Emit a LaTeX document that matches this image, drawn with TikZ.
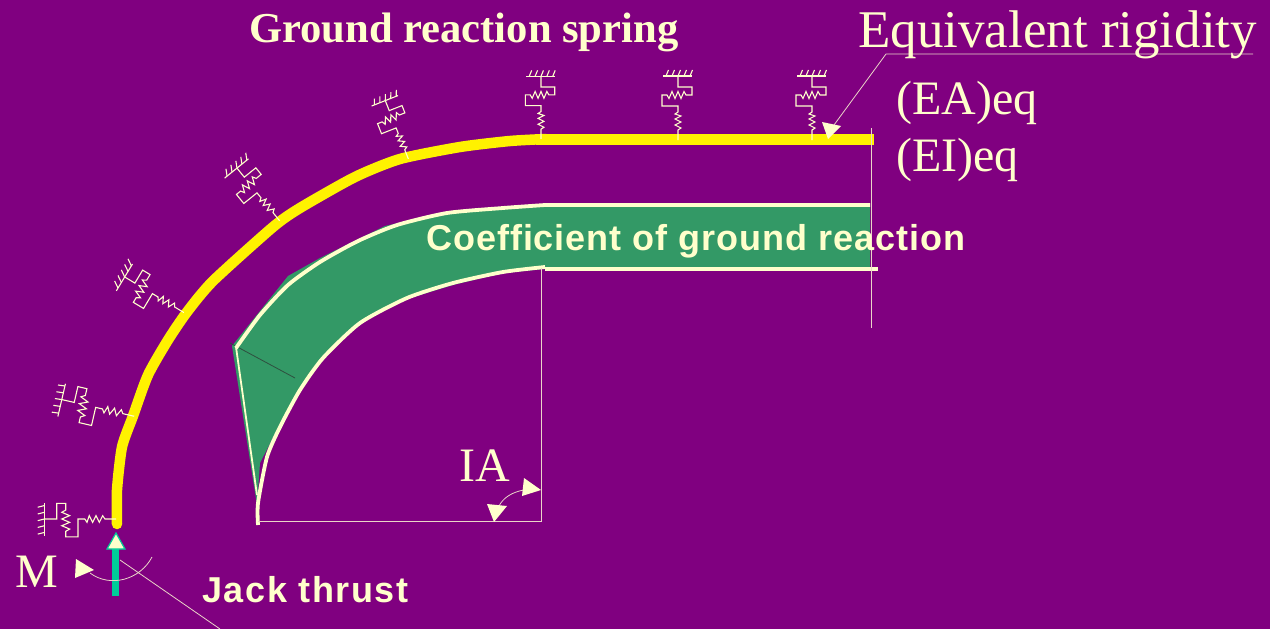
\documentclass[tikz,border=0pt]{standalone}
\usepackage{fontspec}
\setmainfont{Liberation Serif}
\setsansfont{Liberation Sans}
\definecolor{bgpurple}{HTML}{800080}
\definecolor{cream}{HTML}{FFFFCC}
\definecolor{seagreen}{HTML}{339966}
\definecolor{teal2}{HTML}{00CC99}
\definecolor{darkline}{HTML}{2F4F3F}
\definecolor{paleline}{HTML}{EBD5C8}
\tikzset{
  thinline/.style={draw=cream,line width=1.1pt,line join=miter},
  dimline/.style={draw=paleline,line width=0.8pt,line join=miter},
  creamline/.style={draw=cream,line width=3.8pt,line join=round},
  beam/.style={draw=yellow,line join=round},
  tri/.style={fill=cream,draw=none},
  serif48/.style={text=cream,inner sep=0pt,anchor=base west,font=\fontsize{48}{48}\selectfont},
  serifbig/.style={text=cream,inner sep=0pt,anchor=base west,font=\fontsize{53}{53}\selectfont},
  boldtitle/.style={text=cream,inner sep=0pt,anchor=base west,font=\fontsize{42.6}{42.6}\selectfont\bfseries},
  sanslabel/.style={text=cream,inner sep=0pt,anchor=base west,font=\fontsize{36}{36}\selectfont\sffamily\bfseries},
}
\newcommand{\groundspring}[5]{%
  \begin{scope}[shift={(#1,#2)},rotate=#3,scale=#4,x=1pt,y=1pt]
    \draw[thinline] (0,-1)--(0,9)--(3,11)--(-3,14)--(3,17)--(-3,20)--(3,23)--(-3,25)--(0,27)--(0,33)--(-16,33)--(-16,44)
      --(-11,44)--(-9,40.5)--(-6,47.5)--(-3,40.5)--(0,47.5)--(3,40.5)--(6,47.5)--(8,44)--(14,44)--(14,52)--(0,52)--(0,63);
    \draw[thinline] (-15,63)--(14,63);
    \foreach \t in {-12,-6,0,6,12} \draw[thinline] (\t,63)--(\t+#5,69);
  \end{scope}}
\begin{document}
\begin{tikzpicture}[x=1pt,y=-1pt]
\useasboundingbox (0,0) rectangle (1270,629);
\fill[bgpurple] (0,0) rectangle (1270,629);

% green band
\fill[seagreen] (232,346)--(288,276)--(320,258)--(385,226)--(447,212)--(503,207)--(545,204)--(870,204)--(870,269)--(545,269)
  --(503,273)--(453,285)--(407,299)--(373,314)--(360,323)--(323,358)--(300,390)--(277,430)--(260,463)--(257,505)--cycle;
\draw[darkline,line width=0.8pt] (230,343)--(295,378);
\draw[creamline,line width=1.8pt] (236,347)--(257,495);
\draw[creamline] plot[smooth,tension=0.4] coordinates {(236,348)(260,315)(288,285)(320,262)(358,241)(397,225)(447,213)(503,208)(545,205)} -- (870,205);
\draw[creamline] plot[smooth,tension=0.4] coordinates {(258,525)(258,503)(267,457)(280,427)(300,390)(323,358)(360,323)(407,298)(453,283)(503,272)(545,267)};
\draw[creamline] (545,269)--(878,269);

% dimension lines
\coordinate (baseL) at (258,521);
\coordinate (corner) at (541,521);
\coordinate (cornerTop) at (541,268);
\coordinate (endTop) at (871,128);
\coordinate (endBot) at (871,328);
\draw[dimline] (baseL)--(corner)--(cornerTop);

% yellow segment
\draw[beam,line width=10.5pt,line cap=round] plot[smooth,tension=0.4] coordinates {(117,524)(117,490)(122,447)(133,416)(148,375)(168,340)(187,312)(213,281)(273,227)(300,208)(355,177)(400,159)(460,147)(510,141)(546,139)};
\draw[beam,line width=11.5pt] (536,139.5)--(874,139.5);
\draw[dimline] (endTop)--(endBot);

% springs
\groundspring{115}{519}{90}{1.12}{-1.5}
\groundspring{133}{416}{77}{1.16}{-0.5}
\groundspring{183}{312}{59}{1.08}{4}
\groundspring{279}{220}{39}{1.06}{3.5}
\groundspring{408}{158}{21.6}{0.98}{2.5}
\groundspring{541}{138}{0}{0.98}{2.5}
\groundspring{678}{139}{0}{1}{2.5}
\groundspring{812}{139}{0}{1}{2.5}

% jack thrust arrow
\coordinate (jackBase) at (115.5,596);
\coordinate (jackHead) at (115.5,548);
\draw[teal2,line width=6.5pt] (jackBase)--(jackHead);
\filldraw[fill=cream,draw=teal2,line width=1.2pt] (116,533)--(107,549)--(125,549)--cycle;

% moment
\coordinate (mA) at (152,557);
\coordinate (mB) at (90,573);
\draw[dimline] (mA) .. controls (140,580) and (110,588) .. (mB);
\fill[tri] (94,570)--(76,559)--(75,578)--cycle;
\coordinate (jackL1) at (120,560);
\coordinate (jackL2) at (220,629);
\draw[dimline] (jackL1)--(jackL2);

% IA arrows
\coordinate (iaA) at (524,490);
\coordinate (iaB) at (499,506);
\draw[dimline] (iaA) .. controls (512,492) and (503,498) .. (iaB);
\fill[tri] (541,490)--(524,478)--(522,496)--cycle;
\fill[tri] (494,522)--(487,504)--(507,506)--cycle;

% equivalent rigidity leader
\coordinate (eqA) at (1253,54);
\coordinate (eqB) at (886,54);
\coordinate (eqC) at (834,125);
\draw[dimline] (eqA)--(eqB)--(eqC);
\fill[tri] (828,139)--(822,122)--(841,126)--cycle;

% labels
\node[boldtitle] (title) at (249,42) {Ground reaction spring};
\node[serifbig] (eqrig) at (858,47) {Equivalent rigidity};
\node[serif48] (ea) at (896,114) {(EA)eq};
\node[serif48] (ei) at (896,171) {(EI)eq};
\node[sanslabel] (coef) at (426,250) {\addfontfeature{LetterSpace=2.7}Coefficient of ground reaction};
\node[serif48] (ia) at (459,481) {IA};
\node[serif48] (m) at (15,587) {M};
\node[sanslabel] (jack) at (202,602) {\addfontfeature{LetterSpace=4.4}Jack thrust};
\end{tikzpicture}
\end{document}
